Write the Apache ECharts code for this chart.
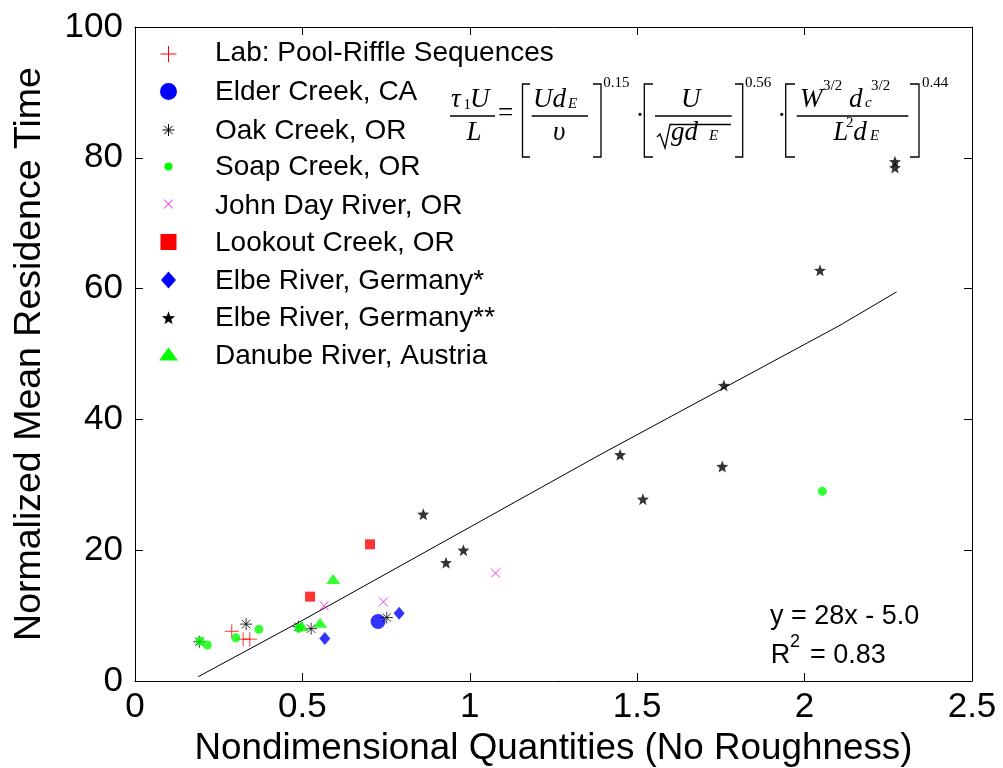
<!DOCTYPE html>
<html>
<head>
<meta charset="utf-8">
<script src="https://cdn.jsdelivr.net/npm/echarts@6/dist/echarts.min.js"></script>
<style>
html, body { margin: 0; padding: 0; background: #fff; }
#chart { width: 1003px; height: 768px; }
</style>
</head>
<body>
<div id="chart"></div>
<script>
// 各数据源的点 [x, y]
var labPoints = [[0.289, 7.6], [0.323, 6.4], [0.343, 6.4]];
var elderPoints = [[0.726, 9.1]];
var oakPoints = [[0.192, 6.0], [0.332, 8.7], [0.488, 8.3], [0.526, 8.0], [0.752, 9.7]];
var soapPoints = [[0.194, 6.1], [0.216, 5.5], [0.301, 6.6], [0.370, 7.9], [0.490, 8.1], [2.053, 29.0]];
var johnDayPoints = [[0.565, 11.5], [0.742, 12.1], [1.077, 16.5]];
var lookoutPoints = [[0.523, 12.9], [0.702, 20.9]];
var elbe1Points = [[0.567, 6.5], [0.789, 10.35]];
var elbe2Points = [[0.861, 25.5], [0.929, 18.1], [0.981, 20.0], [1.449, 34.6], [1.517, 27.8],
	[1.754, 32.8], [1.759, 45.2], [2.046, 62.8], [2.270, 78.5], [2.270, 79.4]];
var danubePoints = [[0.498, 8.4], [0.553, 8.9], [0.592, 15.6]];
// 拟合线 y = 28x - 5.0
var fitPoints = [[0.189, 0.66], [0.493, 9.07], [1.389, 34.6], [2.106, 54.4], [2.275, 59.5]];

var xTicks = [0, 0.5, 1, 1.5, 2, 2.5];
var yTicks = [0, 20, 40, 60, 80, 100];

var SANS = '"Liberation Sans", Arial, sans-serif';
var SERIF = '"Liberation Serif", "Times New Roman", serif';

// 符号路径
var P_PLUS = 'M0,5L10,5M5,0L5,10';
var P_AST = 'M0,5L10,5M5,0L5,10M1.5,1.5L8.5,8.5M1.5,8.5L8.5,1.5';
var P_X = 'M0,0L10,10M0,10L10,0';
var P_SQ = 'M0,0L10,0L10,10L0,10Z';
var P_DIA = 'M0,6L5,0L10,6L5,12Z';
var P_TRI = 'M0,13L9.5,0L19,13Z';
var P_STAR = 'M5,0L6.23,3.3L9.76,3.46L7,5.65L7.94,9.05L5,7.1L2.06,9.05L3,5.65L0.24,3.46L3.77,3.3Z';
var P_CIRCLE = null;

var RED = '#ff0000', BLUE = '#0000ff', GREEN = '#00ff00', MAGENTA = '#ff00ff', BLACK = '#000000';

// 系列定义: 名称, 数据, 符号, 图中大小, 颜色, 是否空心, 图例图标宽高, 图例图标中心, 图例文字中心
var seriesDefs = [
	{ name: 'Lab: Pool-Riffle Sequences', data: labPoints, path: P_PLUS, size: 14, color: RED, hollow: true, lw: 16, lh: 16, ly: 54, ty: 53.7 },
	{ name: 'Elder Creek, CA', data: elderPoints, path: P_CIRCLE, size: 15, color: BLUE, hollow: false, lw: 17, lh: 17, ly: 91.5, ty: 92.5 },
	{ name: 'Oak Creek, OR', data: oakPoints, path: P_AST, size: 12, color: BLACK, hollow: true, lw: 12, lh: 12, ly: 130, ty: 130.8 },
	{ name: 'Soap Creek, OR', data: soapPoints, path: P_CIRCLE, size: 9, color: GREEN, hollow: false, lw: 8, lh: 8, ly: 166.5, ty: 167.5 },
	{ name: 'John Day River, OR', data: johnDayPoints, path: P_X, size: 9, color: MAGENTA, hollow: true, lw: 9, lh: 9, ly: 204, ty: 205.8 },
	{ name: 'Lookout Creek, OR', data: lookoutPoints, path: P_SQ, size: 10, color: RED, hollow: false, lw: 16, lh: 16, ly: 242, ty: 243 },
	{ name: 'Elbe River, Germany*', data: elbe1Points, path: P_DIA, size: [11, 13], color: BLUE, hollow: false, lw: 15, lh: 17, ly: 280, ty: 280.8 },
	{ name: 'Elbe River, Germany**', data: elbe2Points, path: P_STAR, size: 12, color: BLACK, hollow: false, lw: 13, lh: 13, ly: 317.8, ty: 318.5 },
	{ name: 'Danube River, Austria', data: danubePoints, path: P_TRI, size: [14, 10], color: GREEN, hollow: false, lw: 19, lh: 13, ly: 354, ty: 356.3 }
];

function buildSeries(def) {
	return {
		name: def.name,
		type: 'scatter',
		data: def.data,
		symbol: def.path ? 'path://' + def.path : 'circle',
		symbolSize: def.size,
		itemStyle: def.hollow ? { color: 'none', borderColor: def.color, borderWidth: 1 } : { color: def.color, borderWidth: 0 },
		z: 3
	};
}

// 把简单的 M/L/Z 路径拆成子路径点列
function parsePath(d) {
	var subs = [];
	var cur = null;
	d.replace(/([MLZ])([^MLZ]*)/g, function (all, cmd, args) {
		if (cmd === 'Z') { return ''; }
		var p = args.split(',').map(Number);
		if (cmd === 'M') { cur = []; subs.push(cur); }
		cur.push(p);
		return '';
	});
	return subs;
}

// 图例用 graphic 画, 图标中心 x=168.5, 文字左边 x=215
function legendGraphics() {
	var out = [];
	seriesDefs.forEach(function (def) {
		var cx = 168.5;
		if (!def.path) {
			out.push({ type: 'circle', z: 10, shape: { cx: cx, cy: def.ly, r: def.lw / 2 }, style: { fill: def.color } });
		} else {
			var subs = parsePath(def.path);
			var all = [].concat.apply([], subs);
			var xs = all.map(function (p) { return p[0]; });
			var ys = all.map(function (p) { return p[1]; });
			var minX = Math.min.apply(null, xs), maxX = Math.max.apply(null, xs);
			var minY = Math.min.apply(null, ys), maxY = Math.max.apply(null, ys);
			subs.forEach(function (sub) {
				var pts = sub.map(function (p) {
					return [cx - def.lw / 2 + (p[0] - minX) / (maxX - minX) * def.lw,
						def.ly - def.lh / 2 + (p[1] - minY) / (maxY - minY) * def.lh];
				});
				if (def.hollow) {
					out.push({ type: 'polyline', z: 10, shape: { points: pts }, style: { stroke: def.color, lineWidth: 1, fill: null } });
				} else {
					out.push({ type: 'polygon', z: 10, shape: { points: pts }, style: { fill: def.color } });
				}
			});
		}
		out.push({
			type: 'text', x: 215, y: def.ty, z: 10,
			style: { text: def.name, fontFamily: SANS, fontSize: 28, fill: '#000', verticalAlign: 'middle' }
		});
	});
	return out;
}

function txt(s, x, y, size, italic, align) {
	return {
		type: 'text', x: x, y: y, z: 10,
		style: {
			text: s, fontFamily: SERIF, fontSize: size,
			fontStyle: italic ? 'italic' : 'normal',
			fill: '#000', align: align || 'left', verticalAlign: 'middle'
		}
	};
}

function stroke(points) {
	return {
		type: 'polyline', z: 10,
		shape: { points: points },
		style: { stroke: '#000', lineWidth: 1.3, fill: null }
	};
}

function bracket(x0, x1) {
	// x0 是竖线位置, x1 是短横线末端
	return stroke([[x1, 84], [x0, 84], [x0, 157], [x1, 157]]);
}

function equationGraphics() {
	var N = 99.5, D = 133, SUP = 83, F = 27;
	return [
		txt('τ', 451, N, F, true), txt('1', 463.5, 105, 15, false), txt('U', 470, N, F, true),
		stroke([[450, 116], [495, 116]]),
		txt('L', 466.5, D, F, true),
		txt('=', 498, 114, F, false),
		bracket(522.5, 530),
		txt('Ud', 533, N, F, true), txt('E', 568, 104.5, 15, true),
		stroke([[531.7, 116], [588, 116]]),
		txt('υ', 553, D, F, true),
		bracket(601, 593),
		txt('0.15', 603.3, SUP, 15, false),
		txt('·', 640, 117, F, false, 'center'),
		bracket(644.3, 653),
		txt('U', 681, N, F, true),
		stroke([[655, 116], [731.7, 116]]),
		stroke([[657, 137], [660, 134], [665, 148], [670, 124.5], [731, 124.5]]),
		txt('gd', 671, D, F, true), txt('E', 709, 136.5, 15, true),
		bracket(742.7, 735),
		txt('0.56', 745, SUP, 15, false),
		txt('·', 781.7, 117, F, false, 'center'),
		bracket(785.7, 795),
		txt('W', 800, N, F, true), txt('3/2', 823, 86.5, 15, false),
		txt('d', 849, N, F, true), txt('c', 865, 103, 15, true), txt('3/2', 871, 86.5, 15, false),
		stroke([[796.7, 116], [908.3, 116]]),
		txt('L', 833.3, D, F, true), txt('2', 846, 123, 15, false),
		txt('d', 853.3, D, F, true), txt('E', 870, 136.5, 15, true),
		bracket(919, 910),
		txt('0.44', 922, SUP, 15, false)
	];
}

function fitTextGraphics() {
	function s(t, x, y, size) {
		return { type: 'text', x: x, y: y, z: 10,
			style: { text: t, fontFamily: SANS, fontSize: size, fill: '#000', verticalAlign: 'middle' } };
	}
	return [
		s('y = 28x - 5.0', 770, 617, 27),
		s('R', 770.7, 655.5, 27),
		s('2', 790, 641.7, 18),
		s('= 0.83', 810, 655.5, 27)
	];
}

function axisCommon(ticks, show) {
	return {
		type: 'value',
		min: ticks[0],
		max: ticks[ticks.length - 1],
		interval: ticks[1] - ticks[0],
		axisLine: { show: true, onZero: false, lineStyle: { color: '#000', width: 1 } },
		axisTick: { show: true, inside: true, length: 8, lineStyle: { color: '#000' } },
		splitLine: { show: false },
		axisLabel: { show: show, color: '#000', fontFamily: SANS, fontSize: 35 }
	};
}

var chart = echarts.init(document.getElementById('chart'), null, { renderer: 'canvas' });

var xBottom = axisCommon(xTicks, true);
xBottom.position = 'bottom';
xBottom.axisLabel.margin = 9;
xBottom.name = 'Nondimensional Quantities (No Roughness)';
xBottom.nameLocation = 'middle';
xBottom.nameGap = 42;
xBottom.nameTextStyle = { color: '#000', fontFamily: SANS, fontSize: 36.8 };

var xTop = axisCommon(xTicks, false);
xTop.position = 'top';

var yLeft = axisCommon(yTicks, true);
yLeft.position = 'left';
yLeft.axisLabel.margin = 12;
yLeft.name = 'Normalized Mean Residence Time';
yLeft.nameLocation = 'middle';
yLeft.nameGap = 86;
yLeft.nameTextStyle = { color: '#000', fontFamily: SANS, fontSize: 37.5 };

var yRight = axisCommon(yTicks, false);
yRight.position = 'right';

var series = [{
	name: 'fit',
	type: 'line',
	data: fitPoints,
	symbol: 'none',
	lineStyle: { color: '#000', width: 1 },
	z: 2
}].concat(seriesDefs.map(buildSeries));

var option = {
	animation: false,
	backgroundColor: '#fff',
	grid: { left: 135, right: 31, top: 27, bottom: 87, outerBoundsMode: 'none' },
	xAxis: [xBottom, xTop],
	yAxis: [yLeft, yRight],
	graphic: legendGraphics().concat(equationGraphics(), fitTextGraphics()),
	series: series
};

chart.setOption(option);
</script>
</body>
</html>
